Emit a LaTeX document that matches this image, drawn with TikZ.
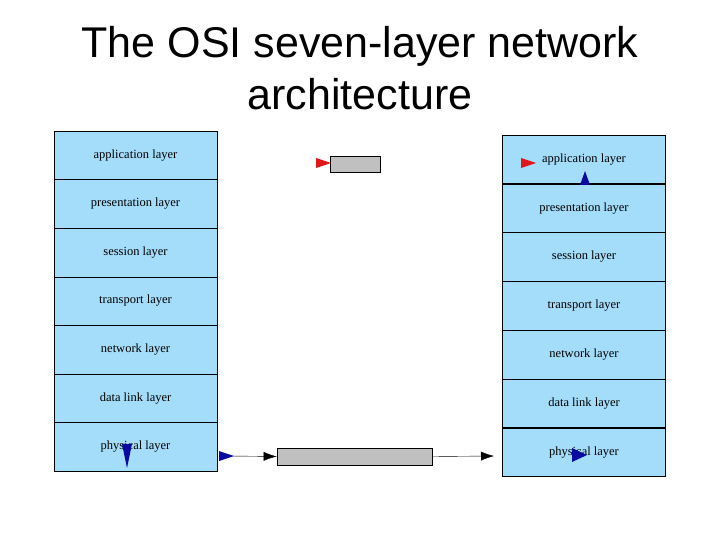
\documentclass[tikz,border=0pt]{standalone}
\usetikzlibrary{arrows.meta}
\usepackage{fontspec}
\setmainfont{Liberation Serif}
\newfontfamily\ttl{Liberation Sans}
\definecolor{lb}{HTML}{A4DDFA}
\definecolor{gr}{HTML}{C0C0C0}
\definecolor{rd}{HTML}{E0161C}
\definecolor{bl}{HTML}{0A0AA0}
\begin{document}
\begin{tikzpicture}[x=1pt,y=-1pt,
  layer/.style={draw=black,fill=lb,minimum width=163pt,minimum height=48.6pt,inner sep=0pt,font=\fontsize{12.5}{13}\selectfont,line width=0.6pt},
  gbox/.style={draw=black,fill=gr,inner sep=0pt,line width=0.7pt},
  arr/.style={-{Latex[length=13pt,width=9pt]}}]
\useasboundingbox (0,0) rectangle (720,540);
\node[font=\ttl\fontsize{43}{52}\selectfont,align=center] (title) at (360,68) {The OSI seven-layer network\\architecture};
\foreach \t [count=\i] in {application layer,presentation layer,session layer,transport layer,network layer,data link layer,physical layer}{
  \node[layer] (L\i) at (135.5,{131+24.3+48.6*(\i-1)}) {\raisebox{3pt}{\t}};
  \node[layer] (R\i) at (584,{135+24.4+48.8*(\i-1)}) {\raisebox{3pt}{\t}};
}
\draw[line width=1.5pt] (L4.south west) -- (L4.south east);
\node[gbox,minimum width=50pt,minimum height=16pt] (gt) at (355,164) {};
\node[gbox,minimum width=155pt,minimum height=17pt] (gb) at (354.5,456.5) {};
\coordinate (a1) at (230,456);
\coordinate (a2) at (494,456);
\draw[arr] (a1) -- (gb.west);
\draw[arr] (gb.east) -- (a2);
\fill[rd] (316,158) -- (331,163) -- (316,168) -- cycle;
\fill[rd] (521,158) -- (536,163) -- (521,168) -- cycle;
\fill[bl] (219,451) -- (234,456) -- (219,461) -- cycle;
\fill[bl] (580,185) -- (585,171) -- (590,185) -- cycle;
\fill[bl] (122,444) -- (127,468) -- (132,444) -- cycle;
\fill[bl] (572,448) -- (587,455) -- (572,462) -- cycle;
\end{tikzpicture}
\end{document}
